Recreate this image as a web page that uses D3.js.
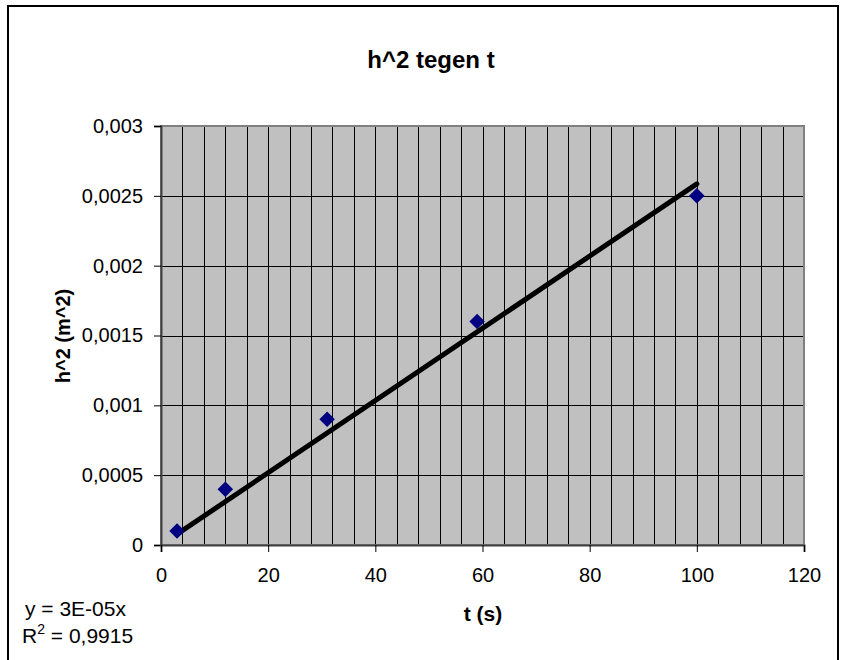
<!DOCTYPE html>
<html>
<head>
<meta charset="utf-8">
<script src="https://cdn.jsdelivr.net/npm/d3@7"></script>
<style>
  body { margin: 0; background: white; }
  text { font-family: "Liberation Sans", Arial, sans-serif; }
</style>
</head>
<body>
<div id="chart"></div>
<script>
// meetwaarden
const tValues = [3, 12, 31, 59, 100];
const h2Values = [0.0001, 0.0004, 0.0009, 0.0016, 0.0025];
const yTicks = [0, 0.0005, 0.001, 0.0015, 0.002, 0.0025, 0.003];
const xTicks = [0, 20, 40, 60, 80, 100, 120];
const trendLabels = ["y = 3E-05x", "0,9915"];

const W = 848, H = 660;
const plot = { left: 161, right: 804, top: 126, bottom: 545 };

const svg = d3.select('#chart').append('svg')
    .attr('width', W)
    .attr('height', H);

// outer frame
svg.append('rect')
    .attr('x', 8).attr('y', 6)
    .attr('width', 830).attr('height', 670)
    .attr('fill', 'white')
    .attr('stroke', 'black')
    .attr('stroke-width', 2);

let x = d3.scaleLinear().domain([0, 120]).range([plot.left, plot.right]);
let y = d3.scaleLinear().domain([0, 0.003]).range([plot.bottom, plot.top]);

const nl = d3.formatLocale({ decimal: ",", thousands: ".", grouping: [3], currency: ["€", ""] });
const fmt = nl.format("~g");

// plot area
svg.append('rect')
    .attr('x', plot.left).attr('y', plot.top)
    .attr('width', plot.right - plot.left)
    .attr('height', plot.bottom - plot.top)
    .attr('fill', '#c0c0c0');

let g = svg.append('g');

// vertical minor grid (every 4)
g.selectAll('line.vg')
    .data(d3.range(4, 120, 4))
    .join('line')
    .attr('class', 'vg')
    .attr('x1', d => Math.round(x(d)) + 0.5)
    .attr('x2', d => Math.round(x(d)) + 0.5)
    .attr('y1', plot.top)
    .attr('y2', plot.bottom)
    .attr('stroke', 'black')
    .attr('stroke-width', 1);

// horizontal major grid
g.selectAll('line.hg')
    .data(yTicks.slice(1, -1))
    .join('line')
    .attr('class', 'hg')
    .attr('x1', plot.left)
    .attr('x2', plot.right)
    .attr('y1', d => Math.round(y(d)) + 0.5)
    .attr('y2', d => Math.round(y(d)) + 0.5)
    .attr('stroke', 'black')
    .attr('stroke-width', 1);

// plot area border
svg.append('rect')
    .attr('x', plot.left).attr('y', plot.top)
    .attr('width', plot.right - plot.left)
    .attr('height', plot.bottom - plot.top)
    .attr('fill', 'none')
    .attr('stroke', '#808080')
    .attr('stroke-width', 2);

// axes
let yAxis = d3.axisLeft(y).tickValues(yTicks).tickFormat(fmt).tickSize(7).tickPadding(11);
let yg = svg.append('g')
    .attr('transform', `translate(${plot.left},0)`)
    .call(yAxis);
yg.select('.domain').attr('stroke', '#404040').attr('stroke-width', 2);
yg.selectAll('.tick line').attr('stroke', 'black');
yg.selectAll('.tick text')
    .attr('font-size', 20)
    .attr('font-family', '"Liberation Sans", Arial, sans-serif')
    .attr('fill', 'black');

let xAxis = d3.axisBottom(x).tickValues(xTicks).tickFormat(fmt).tickSize(7).tickPadding(16);
let xg = svg.append('g')
    .attr('transform', `translate(0,${plot.bottom})`)
    .call(xAxis);
xg.select('.domain').attr('stroke', '#404040').attr('stroke-width', 2);
xg.selectAll('.tick line').attr('stroke', 'black');
xg.selectAll('.tick text')
    .attr('font-size', 20)
    .attr('font-family', '"Liberation Sans", Arial, sans-serif')
    .attr('fill', 'black');

// trendline through origin (least squares)
let sxy = d3.sum(tValues, (t, i) => t * h2Values[i]);
let sxx = d3.sum(tValues, t => t * t);
let slope = sxy / sxx;
let tExt = d3.extent(tValues);
svg.append('line')
    .attr('x1', x(tExt[0])).attr('y1', y(slope * tExt[0]))
    .attr('x2', x(tExt[1])).attr('y2', y(slope * tExt[1]))
    .attr('stroke', 'black')
    .attr('stroke-width', 5)
    .attr('stroke-linecap', 'round');

// markers
svg.selectAll('path.pt')
    .data(tValues)
    .join('path')
    .attr('class', 'pt')
    .attr('d', d3.symbol(d3.symbolSquare, 120))
    .attr('transform', (d, i) => `translate(${x(d)},${y(h2Values[i])}) rotate(45)`)
    .attr('fill', '#000080');

// titles
svg.append('text')
    .attr('x', 431).attr('y', 68)
    .attr('text-anchor', 'middle')
    .attr('font-size', 24)
    .attr('font-weight', 'bold')
    .text('h^2 tegen t');

svg.append('text')
    .attr('transform', 'translate(70,336) rotate(-90)')
    .attr('text-anchor', 'middle')
    .attr('font-size', 20)
    .attr('font-weight', 'bold')
    .text('h^2 (m^2)');

svg.append('text')
    .attr('x', 483).attr('y', 621)
    .attr('text-anchor', 'middle')
    .attr('font-size', 21)
    .attr('font-weight', 'bold')
    .text('t (s)');

// trendline label
svg.append('text')
    .attr('x', 25).attr('y', 616)
    .attr('font-size', 21)
    .text(trendLabels[0]);

let r2 = svg.append('text')
    .attr('x', 22).attr('y', 643)
    .attr('font-size', 21);
r2.append('tspan').text('R');
r2.append('tspan').attr('dy', -9).attr('font-size', 14).text('2');
r2.append('tspan').attr('dy', 9).text(' = ' + trendLabels[1]);
</script>
</body>
</html>
